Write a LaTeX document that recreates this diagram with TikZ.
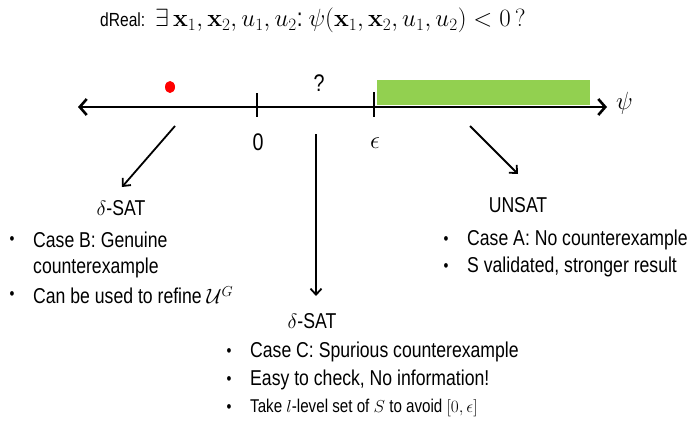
\documentclass[tikz,border=0pt]{standalone}
\usepackage{amsmath}
\usepackage[no-math]{fontspec}
\setmainfont[FakeStretch=0.82]{Liberation Sans}
\usetikzlibrary{arrows.meta}
\tikzset{
  txt/.style={inner sep=0pt, font=\fontsize{21.5}{24}\selectfont},
  bul/.style={inner sep=0pt, font=\fontsize{17}{20}\selectfont},
  lbl/.style={txt, anchor=west},
  axisline/.style={line width=2.6pt, {Straight Barb[length=7pt,width=16pt,line width=2.6pt]}-{Straight Barb[length=7pt,width=16pt,line width=2.6pt]}},
  conn/.style={line width=1.8pt, -{Straight Barb[length=6pt,width=11pt,line width=1.8pt]}},
  tick/.style={line width=2.2pt}
}
\begin{document}
\begin{tikzpicture}[x=1pt,y=-1pt]
\useasboundingbox (0,0) rectangle (687,428);
% title
\node[inner sep=0pt, anchor=base west, font=\fontsize{19}{22}\selectfont] (dreal) at (100,27) {dReal:};
\node[anchor=base west, inner sep=0pt, font=\fontsize{25.5}{28}\selectfont] (formula) at (155,27)
  {$\exists\,\mathbf{x}_1,\mathbf{x}_2,u_1,u_2\text{:}\ \psi(\mathbf{x}_1,\mathbf{x}_2,u_1,u_2)<0\,?$};
% green region
\fill[fill={rgb,255:red,146;green,208;blue,80}] (377,80) rectangle (590,105);
% axis
\coordinate (axL) at (78,107);
\coordinate (axR) at (607,107);
\draw[axisline] (axL) -- (axR);
\node[inner sep=0pt, font=\fontsize{23}{26}\selectfont, anchor=west] (psi) at (616,103) {$\psi$};
% ticks
\coordinate (t0a) at (257,93); \coordinate (t0b) at (257,117);
\coordinate (tea) at (374,92); \coordinate (teb) at (374,117);
\draw[tick] (t0a) -- (t0b);
\draw[tick] (tea) -- (teb);
\node[inner sep=0pt, font=\fontsize{24}{26}\selectfont] (zero) at (258,142) {0};
\node[inner sep=0pt, font=\fontsize{23}{26}\selectfont] (eps) at (375,143) {$\epsilon$};
\node[inner sep=0pt, font=\fontsize{24}{26}\selectfont] (q) at (319,83) {?};
% red dot
\fill[red] (170,87) ellipse (5pt and 6pt);
\node[inner sep=0pt] (dot) at (170,87) {};
% arrow starts
\coordinate (sL) at (175,126);
\coordinate (sM) at (316,134);
\coordinate (sR) at (470,126);
% headings
\node[txt] (dsatL) at (121,208) {$\delta$-SAT};
\node[txt] (unsat) at (518,205) {UNSAT};
\node[txt] (dsatM) at (312,321) {$\delta$-SAT};
% connectors
\draw[conn] (sL) -- ([xshift=1pt,yshift=21pt]dsatL.center);
\draw[conn] (sR) -- ([xshift=0pt,yshift=31pt]unsat.center);
\draw[conn] (sM) -- ([xshift=4pt,yshift=25pt]dsatM.center);
% left bullets
\node[bul] (bL1) at (12,241) {•};
\node[lbl] (tL1) at (33,240) {Case B: Genuine};
\node[lbl] (tL2) at (33,268) {counterexample};
\node[bul] (bL2) at (12,296) {•};
\node[lbl] (tL3) at (33,295) {Can be used to refine $\mathcal{U}^G$};
% right bullets
\node[bul] (bR1) at (446,241) {•};
\node[lbl] (tR1) at (467,240) {Case A: No counterexample};
\node[bul] (bR2) at (446,268) {•};
\node[lbl] (tR2) at (467,267) {S validated, stronger result};
% middle bullets
\node[bul] (bM1) at (229,353) {•};
\node[lbl] (tM1) at (250,352) {Case C: Spurious counterexample};
\node[bul] (bM2) at (229,381) {•};
\node[lbl] (tM2) at (250,380) {Easy to check, No information!};
\node[bul] (bM3) at (229,409) {•};
\node[lbl, font=\fontsize{18.5}{21}\selectfont] (tM3) at (250,408) {Take $l$-level set of $S$ to avoid $[0,\epsilon]$};
\end{tikzpicture}
\end{document}
